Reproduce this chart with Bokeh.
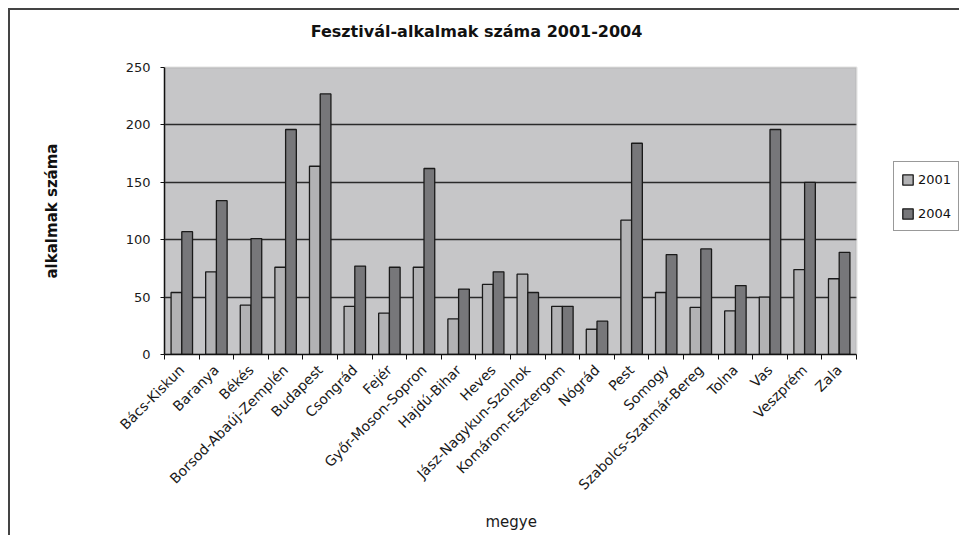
import math
from bokeh.plotting import figure
from bokeh.models import (Range1d, FixedTicker, Legend, LegendItem, ColumnDataSource,
                          BoxAnnotation, Label, Title, LinearAxis)
from bokeh.transform import dodge
from bokeh.embed import file_html
from bokeh.resources import INLINE

counties = ["Bács-Kiskun", "Baranya", "Békés", "Borsod-Abaúj-Zemplén", "Budapest",
            "Csongrád", "Fejér", "Győr-Moson-Sopron", "Hajdú-Bihar", "Heves",
            "Jász-Nagykun-Szolnok", "Komárom-Esztergom", "Nógrád", "Pest", "Somogy",
            "Szabolcs-Szatmár-Bereg", "Tolna", "Vas", "Veszprém", "Zala"]
v2001 = [54, 72, 43, 76, 164, 42, 36, 76, 31, 61, 70, 42, 22, 117, 54, 41, 38, 50, 74, 66]
v2004 = [107, 134, 101, 196, 227, 77, 76, 162, 57, 72, 54, 42, 29, 184, 87, 92, 60, 196, 150, 89]
y_ticks = [0, 50, 100, 150, 200, 250]
series = ["2001", "2004"]
title_text = "Fesztivál-alkalmak száma 2001-2004"
x_title = "megye"
y_title = "alkalmak száma"

FONT = "DejaVu Sans"
N = len(counties)
YMAX = y_ticks[-1]

# layout (pixels)
W, H = 951, 527
LEFT, BOTTOM = 154, 183
PLOT_W = 692      # width of the category area
PLOT_H = 287      # height of the value area (0..250)
frame_w = W - LEFT
frame_h = H - BOTTOM

pos = [i + 0.5 for i in range(N)]
src = ColumnDataSource(dict(pos=pos, county=counties, v2001=v2001, v2004=v2004))

p = figure(width=W, height=H, output_backend="svg", toolbar_location=None, title=None,
           x_range=Range1d(0, N * frame_w / PLOT_W), y_range=Range1d(0, YMAX * frame_h / PLOT_H),
           min_border_left=LEFT, min_border_right=0, min_border_top=0, min_border_bottom=BOTTOM)
p.styles = {"border-left": "2px solid #444444", "border-top": "2px solid #444444",
            "margin-left": "8px", "margin-top": "8px"}

p.background_fill_color = "white"
p.border_fill_color = "white"
p.outline_line_color = None

# plot-area background (below grid), mask to the right of it, and its outline
p.add_layout(BoxAnnotation(left=0, right=N, bottom=0, top=YMAX, level="image",
                           fill_color="#c6c6c8", fill_alpha=1, line_color=None))
p.add_layout(BoxAnnotation(left=N, level="underlay", fill_color="white", fill_alpha=1,
                           line_color=None))
p.add_layout(BoxAnnotation(left=0, right=N, bottom=0, top=YMAX, level="underlay",
                           fill_alpha=0, line_color="#9a9a9a", line_width=2))

bw = 0.31
r1 = p.vbar(x=dodge("pos", -bw / 2, range=p.x_range), top="v2001", width=bw, source=src,
            fill_color="#b2b2b4", line_color="#1a1a1a", line_width=1.3)
r2 = p.vbar(x=dodge("pos", bw / 2, range=p.x_range), top="v2004", width=bw, source=src,
            fill_color="#77777a", line_color="#1a1a1a", line_width=1.3)

# Title
p.add_layout(Label(x=N / 2, y=YMAX, x_offset=-34, y_offset=36, text=title_text,
                   text_align="center", text_baseline="middle", text_font=FONT,
                   text_font_size="16px", text_font_style="bold", text_color="#111111"))

# X axis
xa = p.xaxis[0]
xa.bounds = (0, N)
xa.ticker = FixedTicker(ticks=pos, minor_ticks=list(range(N + 1)))
xa.major_label_overrides = {pp: c for pp, c in zip(pos, counties)}
xa.major_label_orientation = math.pi / 4
xa.major_tick_line_color = None
xa.major_tick_out = 5
xa.major_tick_in = 0
xa.minor_tick_line_color = "#111111"
xa.minor_tick_out = 5
xa.minor_tick_in = 0
xa.axis_line_color = "#111111"
xa.axis_line_width = 1.5
xa.major_label_text_font = FONT
xa.major_label_text_font_size = "14px"
xa.major_label_text_color = "#1a1a1a"
xa.major_label_standoff = 8

# Y axis
ya = p.yaxis[0]
ya.bounds = (0, YMAX)
ya.ticker = FixedTicker(ticks=y_ticks)
ya.minor_tick_line_color = None
ya.major_tick_out = 4
ya.major_tick_in = 0
ya.major_tick_line_color = "#111111"
ya.axis_line_color = "#111111"
ya.axis_line_width = 1.5
ya.major_label_text_font = FONT
ya.major_label_text_font_size = "13px"
ya.major_label_text_color = "#1a1a1a"
ya.major_label_standoff = 10


def spacer(tick, size):
    """An empty axis used only to reserve space between panel items."""
    return LinearAxis(ticker=FixedTicker(ticks=[tick]), major_tick_out=size, major_tick_in=0,
                      major_label_overrides={tick: ""}, major_label_standoff=0,
                      major_label_text_font_size="0px",
                      major_tick_line_color=None, minor_tick_line_color=None,
                      axis_line_color=None)


p.add_layout(spacer(YMAX / 2, 57), "left")
p.add_layout(Title(text=y_title, align="left", offset=76, vertical_align="bottom", standoff=10,
                   text_font=FONT, text_font_size="15px", text_font_style="bold",
                   text_color="#111111"), "left")

p.add_layout(spacer(N / 2, 10), "below")
p.add_layout(Title(text=x_title, align="left", offset=321, vertical_align="top", standoff=2,
                   text_font=FONT, text_font_size="15px", text_font_style="normal",
                   text_color="#1a1a1a"), "below")

p.xgrid.visible = False
p.ygrid[0].ticker = FixedTicker(ticks=[t for t in y_ticks if 0 < t < YMAX])
p.ygrid.grid_line_color = "#2a2a2a"
p.ygrid.grid_line_width = 1.5

legend = Legend(items=[LegendItem(label=series[0], renderers=[r1]),
                       LegendItem(label=series[1], renderers=[r2])],
                location=(729, 123))
legend.label_text_font = FONT
legend.label_text_font_size = "13px"
legend.label_text_color = "#111111"
legend.glyph_width = 13
legend.glyph_height = 13
legend.label_height = 20
legend.label_width = 33
legend.spacing = 14
legend.padding = 7
legend.margin = 0
legend.label_standoff = 4
legend.border_line_color = "#333333"
legend.border_line_width = 1.5
legend.background_fill_color = "white"
p.add_layout(legend)

open("out.html", "w").write(file_html(p, INLINE))
